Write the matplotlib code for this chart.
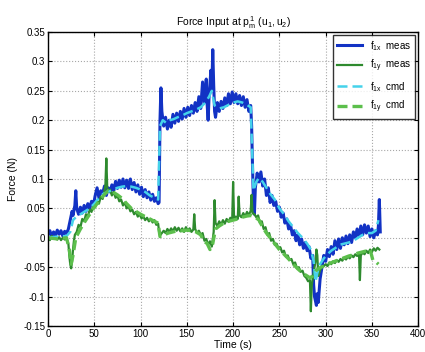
import numpy as np
import matplotlib.pyplot as plt

plt.rcParams['font.family'] = ['Liberation Sans', 'DejaVu Sans']
plt.rcParams['mathtext.fontset'] = 'custom'
plt.rcParams['mathtext.rm'] = 'Liberation Sans'
plt.rcParams['mathtext.it'] = 'Liberation Sans'

# f_1x gemessen
t_fx = [0, 2, 4, 6, 8, 10, 12, 14, 16, 18, 20, 22, 24, 26, 27, 29, 30, 31, 33, 35,
        37, 39, 41, 43, 45, 47, 49, 51, 53, 55, 57, 59, 61, 63, 65, 67, 69, 71, 73, 75,
        77, 79, 81, 83, 85, 87, 89, 91, 93, 95, 97, 99, 101, 103, 105, 107, 109, 111, 113, 115,
        117, 119, 120, 121, 122, 123, 125, 127, 129, 131, 133, 135, 137, 139, 141, 143, 145, 147, 149, 151,
        153, 155, 157, 159, 161, 163, 165, 167, 169, 171, 172, 173, 174, 176, 177, 178, 179, 180, 181, 183,
        185, 187, 189, 191, 193, 195, 197, 199, 201, 203, 205, 207, 209, 211, 213, 215, 217, 219, 220, 221,
        222, 223, 224, 226, 228, 230, 232, 234, 236, 238, 240, 242, 244, 246, 248, 250, 252, 254, 256, 258,
        260, 262, 264, 266, 268, 270, 272, 274, 276, 278, 280, 282, 284, 286, 287, 288, 290, 291, 292, 293,
        294, 296, 298, 300, 302, 304, 306, 308, 310, 312, 314, 316, 318, 320, 322, 324, 326, 328, 330, 332,
        334, 336, 338, 340, 342, 344, 346, 348, 350, 352, 354, 356, 357, 358, 359]
fx_meas = [0.005, 0.012, 0.002, 0.010, 0.004, 0.013, 0.006, 0.012, 0.003, 0.011, 0.007, 0.015, 0.030, 0.045, 0.038, 0.055, 0.080, 0.050, 0.040, 0.052,
           0.042, 0.055, 0.045, 0.058, 0.050, 0.062, 0.055, 0.072, 0.085, 0.068, 0.080, 0.075, 0.088, 0.072, 0.085, 0.078, 0.090, 0.080, 0.096, 0.084,
           0.098, 0.086, 0.100, 0.085, 0.098, 0.084, 0.100, 0.082, 0.094, 0.078, 0.090, 0.074, 0.086, 0.070, 0.082, 0.068, 0.078, 0.064, 0.074, 0.062,
           0.068, 0.058, 0.060, 0.200, 0.255, 0.215, 0.190, 0.205, 0.185, 0.200, 0.188, 0.210, 0.195, 0.212, 0.198, 0.215, 0.202, 0.220, 0.205, 0.222,
           0.208, 0.225, 0.212, 0.230, 0.215, 0.240, 0.220, 0.265, 0.230, 0.270, 0.225, 0.200, 0.240, 0.285, 0.250, 0.320, 0.260, 0.215, 0.205, 0.230,
           0.215, 0.232, 0.220, 0.238, 0.225, 0.245, 0.228, 0.248, 0.230, 0.245, 0.228, 0.242, 0.225, 0.240, 0.222, 0.235, 0.215, 0.225, 0.190, 0.120,
           0.060, 0.040, 0.085, 0.110, 0.095, 0.112, 0.088, 0.100, 0.072, 0.085, 0.060, 0.072, 0.055, 0.062, 0.045, 0.052, 0.035, 0.042, 0.025, 0.032,
           0.015, 0.022, 0.005, 0.012, -0.005, 0.005, -0.012, -0.002, -0.018, -0.008, -0.022, -0.015, -0.035, -0.030, -0.080, -0.100, -0.115, -0.095, -0.110, -0.090,
           -0.070, -0.050, -0.030, -0.040, -0.020, -0.032, -0.015, -0.028, -0.005, -0.020, -0.002, -0.018, 0.000, -0.012, 0.003, -0.010, 0.005, -0.008, 0.010, 0.000,
           0.015, 0.002, 0.020, 0.005, 0.022, 0.008, 0.020, 0.002, 0.015, 0.000, 0.012, 0.005, 0.020, 0.065, 0.010]

# f_1y gemessen
t_fy = [0, 2, 4, 6, 8, 10, 12, 14, 16, 18, 20, 22, 23, 24, 25, 26, 27, 28, 29, 31,
        33, 35, 37, 39, 41, 43, 45, 47, 49, 51, 53, 55, 57, 59, 61, 62, 63, 64, 65, 67,
        69, 71, 73, 75, 77, 79, 81, 83, 85, 87, 89, 91, 93, 95, 97, 99, 101, 103, 105, 107,
        109, 111, 113, 115, 117, 119, 120, 121, 123, 125, 127, 129, 131, 133, 135, 137, 139, 141, 143, 145,
        147, 149, 151, 153, 155, 157, 158, 159, 161, 163, 165, 167, 169, 171, 173, 175, 177, 179, 180, 181,
        183, 185, 187, 189, 191, 193, 195, 197, 199, 200, 201, 203, 205, 206, 207, 209, 211, 213, 215, 217,
        219, 220, 221, 223, 225, 227, 229, 231, 233, 235, 237, 239, 241, 243, 245, 247, 249, 251, 253, 255,
        257, 259, 261, 263, 265, 267, 269, 271, 273, 275, 277, 279, 281, 283, 284, 285, 287, 289, 290, 291,
        292, 294, 296, 298, 300, 302, 304, 306, 308, 310, 312, 314, 316, 318, 320, 322, 324, 326, 328, 330,
        332, 334, 336, 337, 338, 340, 342, 344, 346, 348, 350, 352, 354, 356, 358]
fy_meas = [0.000, -0.004, 0.003, -0.002, 0.002, -0.003, 0.001, -0.004, 0.000, -0.003, -0.002, -0.010, -0.030, -0.045, -0.052, -0.040, -0.020, -0.005, 0.005, 0.010,
           0.022, 0.018, 0.032, 0.028, 0.040, 0.036, 0.048, 0.044, 0.056, 0.052, 0.062, 0.058, 0.070, 0.066, 0.080, 0.090, 0.135, 0.085, 0.078, 0.082,
           0.072, 0.078, 0.068, 0.072, 0.062, 0.065, 0.055, 0.060, 0.050, 0.054, 0.045, 0.048, 0.040, 0.044, 0.036, 0.040, 0.033, 0.036, 0.030, 0.034,
           0.028, 0.032, 0.026, 0.030, 0.022, 0.024, 0.010, 0.004, 0.008, 0.012, 0.008, 0.015, 0.010, 0.016, 0.011, 0.018, 0.012, 0.017, 0.011, 0.016,
           0.010, 0.018, 0.012, 0.016, 0.010, 0.014, 0.040, 0.015, 0.008, 0.012, 0.005, 0.008, -0.005, -0.002, -0.012, -0.006, -0.015, 0.010, 0.064, 0.025,
           0.020, 0.028, 0.022, 0.030, 0.024, 0.032, 0.027, 0.034, 0.030, 0.095, 0.034, 0.036, 0.032, 0.070, 0.038, 0.035, 0.042, 0.036, 0.044, 0.038,
           0.046, 0.073, 0.042, 0.040, 0.035, 0.038, 0.025, 0.028, 0.015, 0.018, 0.005, 0.008, -0.005, -0.002, -0.012, -0.010, -0.018, -0.016, -0.025, -0.022,
           -0.032, -0.030, -0.038, -0.036, -0.045, -0.042, -0.052, -0.050, -0.058, -0.056, -0.065, -0.068, -0.074, -0.072, -0.125, -0.080, -0.060, -0.040, -0.020, -0.030,
           -0.065, -0.055, -0.050, -0.048, -0.045, -0.048, -0.042, -0.045, -0.040, -0.043, -0.038, -0.041, -0.036, -0.039, -0.034, -0.037, -0.032, -0.035, -0.030, -0.033,
           -0.028, -0.031, -0.026, -0.072, -0.030, -0.025, -0.028, -0.022, -0.026, -0.020, -0.024, -0.018, -0.022, -0.017, -0.020]

# f_1x Sollwert
t_fx_cmd = [0, 10, 20, 24, 27, 30, 35, 40, 45, 50, 55, 60, 65, 70, 75, 80, 85, 90, 95, 100,
            105, 110, 115, 119, 121, 124, 128, 132, 136, 140, 145, 150, 155, 160, 165, 170, 174, 177, 180, 185,
            190, 195, 200, 205, 210, 215, 219, 222, 225, 228, 232, 236, 240, 245, 250, 255, 260, 265, 270, 275,
            280, 284, 287, 289, 291, 294, 298, 302, 306, 310, 315, 320, 325, 330, 335, 340, 345, 350, 354, 357]
fx_cmd = [0.000, 0.002, 0.003, 0.010, 0.030, 0.035, 0.040, 0.045, 0.050, 0.058, 0.068, 0.075, 0.078, 0.082, 0.085, 0.087, 0.088, 0.087, 0.085, 0.082,
          0.078, 0.072, 0.068, 0.065, 0.190, 0.200, 0.195, 0.200, 0.202, 0.205, 0.208, 0.212, 0.215, 0.218, 0.222, 0.230, 0.240, 0.250, 0.225, 0.220,
          0.222, 0.226, 0.230, 0.232, 0.230, 0.226, 0.222, 0.080, 0.095, 0.102, 0.095, 0.085, 0.075, 0.065, 0.050, 0.040, 0.028, 0.018, 0.008, 0.000,
          -0.010, -0.020, -0.040, -0.075, -0.060, -0.045, -0.035, -0.028, -0.022, -0.018, -0.012, -0.010, -0.008, -0.005, 0.000, 0.005, 0.008, 0.008, 0.012, 0.030]

# f_1y Sollwert
t_fy_cmd = [0, 10, 20, 23, 25, 27, 30, 35, 40, 45, 50, 55, 60, 65, 70, 75, 80, 85, 90, 95,
            100, 105, 110, 115, 119, 121, 125, 130, 135, 140, 145, 150, 155, 160, 165, 168, 172, 175, 178, 181,
            185, 190, 195, 200, 205, 210, 215, 220, 224, 228, 232, 236, 240, 245, 250, 255, 260, 265, 270, 275,
            280, 283, 286, 290, 295, 300, 305, 310, 315, 320, 325, 330, 335, 340, 345, 348, 351, 355, 357]
fy_cmd = [0.000, -0.002, 0.000, -0.020, -0.045, -0.030, 0.000, 0.015, 0.028, 0.040, 0.052, 0.062, 0.072, 0.080, 0.078, 0.073, 0.067, 0.058, 0.050, 0.045,
          0.040, 0.036, 0.032, 0.028, 0.025, 0.002, 0.005, 0.008, 0.010, 0.012, 0.012, 0.013, 0.012, 0.010, 0.005, -0.005, -0.010, -0.020, -0.010, 0.015,
          0.020, 0.025, 0.028, 0.030, 0.032, 0.035, 0.037, 0.038, 0.035, 0.030, 0.018, 0.008, 0.000, -0.010, -0.020, -0.028, -0.036, -0.045, -0.053, -0.060,
          -0.065, -0.068, -0.065, -0.055, -0.050, -0.047, -0.043, -0.040, -0.037, -0.034, -0.031, -0.029, -0.026, -0.024, -0.022, -0.020, -0.038, -0.042, -0.045]

fig = plt.figure(figsize=(4.25, 3.52), dpi=100)
ax = fig.add_axes([0.113, 0.074, 0.871, 0.835])

ax.plot(t_fx, fx_meas, color='#1232c4', lw=2.2, label=r'$f_{1x}$  meas')
ax.plot(t_fy, fy_meas, color='#2e8a2e', lw=1.6, label=r'$f_{1y}$  meas')
ax.plot(t_fx_cmd, fx_cmd, color='#45d2ea', lw=1.8, dashes=(4, 2), label=r'$f_{1x}$  cmd')
ax.plot(t_fy_cmd, fy_cmd, color='#5cbf4c', lw=2.4, dashes=(3, 1.5), label=r'$f_{1y}$  cmd')

ax.set_xlim(0, 400)
ax.set_ylim(-0.15, 0.35)
ax.set_xticks(np.arange(0, 401, 50))
ax.set_yticks(np.arange(-0.15, 0.351, 0.05))
ax.set_yticklabels(['-0.15', '-0.1', '-0.05', '0', '0.05', '0.1', '0.15', '0.2', '0.25', '0.3', '0.35'])
ax.tick_params(direction='in', top=True, right=True, labelsize=7, length=3, pad=2)
ax.grid(True, linestyle=':', color='#a8a8a8', lw=0.8)
for s in ax.spines.values():
    s.set_linewidth(1.0)

ax.set_title(r'Force Input at $p_m^1$ $(u_1, u_2)$', fontsize=7.5, pad=4)
ax.set_xlabel('Time (s)', fontsize=7.5, labelpad=1)
ax.set_ylabel('Force (N)', fontsize=7.5, labelpad=4)

leg = ax.legend(loc='upper right', fontsize=7, frameon=True, fancybox=False,
                edgecolor='black', handlelength=2.6, borderaxespad=0.3, labelspacing=0.55)
leg.get_frame().set_linewidth(1.0)

fig.savefig('out.png', dpi=100)
